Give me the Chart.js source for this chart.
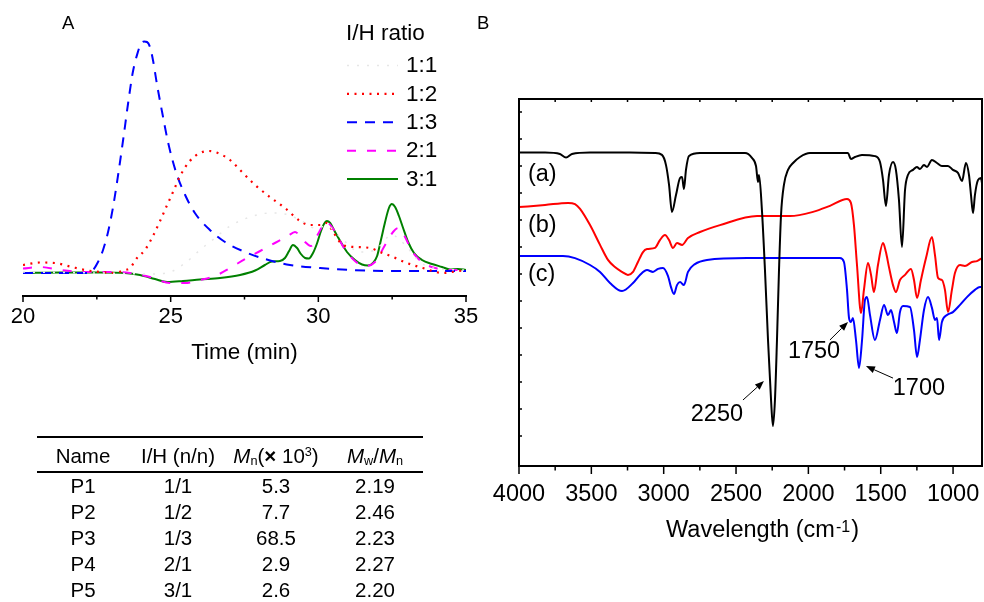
<!DOCTYPE html>
<html><head><meta charset="utf-8">
<script src="https://cdn.jsdelivr.net/npm/chart.js@4.4.1/dist/chart.umd.min.js"></script>
<style>
html,body{margin:0;padding:0;background:#fff;}
body{width:984px;height:602px;position:relative;overflow:hidden;font-family:"Liberation Sans",Arial,Helvetica,sans-serif;color:#000;}
canvas{position:absolute;}
.t{position:absolute;white-space:nowrap;}
sub{font-size:0.62em;vertical-align:baseline;position:relative;top:0.22em;line-height:0;}
sup{font-size:0.62em;vertical-align:baseline;position:relative;top:-0.55em;line-height:0;}
.rule{position:absolute;background:#000;height:1.6px;}
</style></head><body>
<canvas id="gpc" width="490" height="380" style="left:0;top:0;width:490px;height:380px"></canvas>
<canvas id="ir" width="504" height="602" style="left:480px;top:0;width:504px;height:602px"></canvas>
<script>
// ---------------- GPC traces (A) ----------------
const timeTicks = [20, 25, 30, 35];
const ratioLabels = ['1:1', '1:2', '1:3', '2:1', '3:1'];

const t11 = [20,22.61,24.3,24.98,25.49,25.99,26.5,27.01,27.69,28.36,28.87,29.38,29.89,30.29,30.74,31.41,31.92,32.49,32.94,33.44,34.12,35];
const s11 = [12,11.5,11,12,16.5,23,29,35,39.5,41.5,41,38,34,35,29.5,22,23,30.5,25.5,17,13.5,13];

const t12 = [20,20.58,21.08,21.59,22.1,22.61,23.12,23.39,23.62,23.86,24.13,24.4,24.64,24.88,25.08,25.32,25.65,25.99,26.3,26.67,27.01,27.35,27.86,28.36,28.87,29.38,29.72,30.06,30.29,30.5,30.84,31.24,31.75,32.09,32.53,33,33.54,34.22,34.53,35];
const s12 = [15.5,16.75,16.5,14.75,13,12,11.5,12.75,14,19,23,30,37.5,45.5,52,60,67.5,71.5,72.5,71,68,63,55.5,49.5,44,37.5,35.5,35.5,36.5,32,25.5,24.5,24,22,19.5,16.5,14,11.5,12,13];

const t13 = [20,21.25,22.2,22.37,22.54,22.71,22.88,23.05,23.22,23.39,23.56,23.72,23.89,23.99,24.1,24.2,24.3,24.4,24.54,24.71,24.91,25.18,25.49,25.82,26.33,26.84,27.52,28.19,29.04,30.06,31.07,32.77,35];
const s13 = [11.5,11.5,11.5,13,17,23,32,44.5,60.5,78,96.5,112,122,126,127.25,127,124.5,118,105.5,92,77,62,50.5,41.5,33,27,22,18.5,15.5,14,13,12.5,12.5];

const t21 = [20,20.58,21.25,22.1,22.95,23.62,24.3,24.98,25.49,25.99,26.5,27.01,27.52,28.03,28.53,28.97,29.21,29.48,29.75,29.99,30.26,30.53,30.87,31.24,31.58,31.92,32.26,32.53,32.7,32.9,33.17,33.51,33.95,34.46,35];
const s21 = [13.75,14.5,13,12,12,11.5,9.5,6.5,6.5,8,10,14,18.5,22.5,26.5,30,32,28,25,31,37,33,24,17.5,15,17,25.5,32,34,30.5,22.5,17,14,13,13];

const t31 = [20,21.25,22.61,23.45,23.96,24.47,24.88,25.42,25.99,26.67,27.35,27.86,28.19,28.43,28.7,28.87,29.01,29.14,29.28,29.41,29.55,29.68,29.82,29.96,30.09,30.19,30.29,30.4,30.53,30.74,30.97,31.24,31.48,31.68,31.85,31.99,32.12,32.26,32.39,32.49,32.6,32.73,32.87,33.04,33.24,33.51,33.85,34.19,34.46,34.73,35];
const s31 = [11.5,11.75,11.75,11.5,10.5,8.5,7,7.5,8.25,9,10.5,12.75,15.5,17.25,17.5,19,22.5,25.5,24,21,19,18.75,21.5,26.5,32.5,36,37.5,36.5,33,27.5,22,18,15.75,15.25,16.5,20,28,37,44,46,44.5,40,34,27,21.5,18,16,14.5,13.25,13.5,13];

// ---------------- FTIR spectra (B) ----------------
const wnTicks = [1000, 1500, 2000, 2500, 3000, 3500, 4000];
const curveNames = ['(a)', '(b)', '(c)'];

const aWn = [4000,3820,3717,3675,3634,3509,3233,3060,3012,2984,2963,2943,2915,2887,2873,2860,2846,2825,2749,2438,2390,2362,2348,2341,2321,2300,2279,2258,2245,2231,2217,2203,2189,2169,2141,2106,2058,1989,1726,1706,1678,1630,1540,1505,1484,1464,1443,1415,1395,1374,1353,1332,1312,1277,1250,1229,1201,1180,1146,1111,1077,1035,1001,966,938,911,890,876,862,849,828,807,800];
const aT = [104.5,104.5,104,102.8,104,104.5,104.5,104.3,103.7,100.3,93.7,84.7,90.3,96,96.3,92.3,98.7,103.3,104.3,104.3,102.7,100,94.7,97,85.3,65.3,42,22,13.3,22,42,65.3,83.7,93.7,98.7,101,103,104.3,104.3,102.3,103,103.7,103.3,101.3,95.3,86.7,97,101.3,98.7,88.7,73,92,97,98.7,99.7,99,100.3,99.7,102,101,100,100,98.7,97.7,95,101,97,90.3,84.3,90.3,95.3,96,94.3];

const bWn = [4000,3820,3661,3613,3578,3509,3440,3385,3337,3288,3247,3212,3178,3143,3115,3060,3026,2991,2963,2936,2908,2873,2832,2749,2611,2355,2127,1968,1851,1733,1706,1685,1664,1636,1616,1588,1567,1547,1519,1484,1464,1443,1415,1395,1367,1332,1291,1270,1249,1222,1187,1146,1125,1104,1077,1056,1035,1008,987,952,918,869,835,800];
const bT = [86.3,87,87.7,87.3,85.7,80.3,73.7,68.7,66.3,64.7,63.7,64.7,68,71.3,72.3,72.7,75.3,77,75.3,72.7,74.3,73.7,76,78,80.3,83.3,83.3,84.7,86.7,89,87.7,80.3,67,51,58.7,67.7,63.7,58,67,74.3,71.3,66.3,60.3,58,62,63.7,65.7,62,56,62,69.3,76.3,70.3,62.7,62,58.7,51.3,58.7,64.3,67,66.7,68,68.3,69.3];

const cWn = [4000,3696,3613,3509,3440,3371,3288,3212,3164,3115,3074,3039,3005,2970,2950,2929,2908,2887,2860,2832,2784,2701,2424,1782,1754,1733,1719,1706,1692,1671,1650,1629,1609,1595,1574,1540,1505,1477,1450,1429,1408,1388,1367,1346,1298,1270,1249,1229,1201,1173,1146,1125,1111,1097,1077,1042,1001,952,904,849,814,800];
const cT = [70,70,69.3,67,64.7,61,58.3,61,63.7,65.3,64.7,65.7,66,63.3,59.7,57.3,60.3,61.3,60.3,64.7,67.3,68.7,69.3,69.3,68,58.7,49.3,48,49.3,42,32.7,42,55.3,56.3,50.3,42,48.7,53.7,50.3,52,48,44.3,51.3,53.3,53,45.3,36.3,42,52,56.3,52.7,48.7,49.3,42,48,50.3,51.3,53.7,56.3,58.7,59.7,59.7];

// ---------------- Table ----------------
const sampleNames = ['P1', 'P2', 'P3', 'P4', 'P5'];
const ihRatios = ['1/1', '1/2', '1/3', '2/1', '3/1'];
const mnValues = [5.3, 7.7, 68.5, 2.9, 2.6];
const dispersity = [2.19, 2.46, 2.23, 2.27, 2.20];

// ================= rendering =================
const FONT = '"Liberation Sans", Arial, Helvetica, sans-serif';
const pts = (xs, ys) => xs.map((x, i) => ({x, y: ys[i]}));

function placeText(html, left, baseline, size, center) {
  const d = document.createElement('div');
  d.className = 't';
  d.innerHTML = html;
  d.style.fontSize = size + 'px';
  d.style.lineHeight = size + 'px';
  d.style.top = (baseline - 0.8465 * size) + 'px';
  d.style.left = left + 'px';
  if (center) d.style.transform = 'translateX(-50%)';
  document.body.appendChild(d);
}

const gpcStyles = [
  {color: '#e6e6e6', dash: [2, 8], width: 1.5},
  {color: '#ff0000', dash: [2, 5.5], width: 2.2},
  {color: '#0000ff', dash: [10, 8], width: 2},
  {color: '#ff00ff', dash: [9, 11], width: 2},
  {color: '#008000', dash: [], width: 2}
];
const gpcSeries = [[t11, s11], [t12, s12], [t13, s13], [t21, s21], [t31, s31]];

const gpcAxisPlugin = {
  id: 'gpcAxis',
  afterDraw(chart) {
    const {ctx, chartArea: {left, right, bottom}, scales: {x}} = chart;
    ctx.save();
    ctx.strokeStyle = '#000';
    ctx.lineWidth = 2;
    ctx.beginPath(); ctx.moveTo(left - 1, bottom); ctx.lineTo(right + 1, bottom); ctx.stroke();
    ctx.lineWidth = 1.5;
    ctx.beginPath();
    timeTicks.forEach((v, i) => {
      const px = x.getPixelForValue(v);
      ctx.moveTo(px, bottom); ctx.lineTo(px, bottom + 6);
      if (i < timeTicks.length - 1) {
        const pm = x.getPixelForValue((v + timeTicks[i + 1]) / 2);
        ctx.moveTo(pm, bottom); ctx.lineTo(pm, bottom + 3.5);
      }
    });
    ctx.stroke();
    ctx.restore();
  }
};

const gpcChart = new Chart(document.getElementById('gpc'), {
  type: 'line',
  data: {
    datasets: gpcSeries.map((s, i) => ({
      label: ratioLabels[i],
      data: pts(s[0], s[1]),
      borderColor: gpcStyles[i].color,
      borderDash: gpcStyles[i].dash,
      borderWidth: gpcStyles[i].width,
      pointRadius: 0,
      fill: false
    }))
  },
  options: {
    responsive: false, animation: false, devicePixelRatio: 1,
    layout: {padding: {left: 23, right: 24, top: 30, bottom: 0}},
    plugins: {legend: {display: false}, tooltip: {enabled: false}},
    elements: {line: {cubicInterpolationMode: 'monotone', borderCapStyle: 'butt'}},
    scales: {
      x: {
        type: 'linear', min: 20, max: 35,
        afterBuildTicks: s => { s.ticks = timeTicks.map(v => ({value: v})); },
        afterFit: s => { s.height = 84; },
        grid: {display: false, drawTicks: false}, border: {display: false},
        ticks: {padding: 8, color: '#000', font: {family: FONT, size: 22}, maxRotation: 0, autoSkip: false,
                callback: v => String(v)},
        title: {display: true, text: 'Time (min)', color: '#000', font: {family: FONT, size: 22.5},
                padding: {top: 0, bottom: 13.5}}
      },
      y: {display: false, min: 0, max: 133}
    }
  },
  plugins: [gpcAxisPlugin]
});

// ---------------- IR chart ----------------
const irColors = ['#000000', '#ff0000', '#0000ff'];
const irSeries = [[aWn, aT], [bWn, bT], [cWn, cT]];
const curveLabelAnchors = [[3938, 97], [3938, 80.3], [3938, 63.7]];
const peakNotes = [
  {text: '2250', at: [2632, 17.3], from: [2452, 22], to: [2307, 28.3]},
  {text: '1750', at: [1961, 38], from: [1851, 42], to: [1726, 48]},
  {text: '1700', at: [1236, 25.7], from: [1415, 29.3], to: [1602, 33.3]}
];

function drawArrow(ctx, x1, y1, x2, y2) {
  const ang = Math.atan2(y2 - y1, x2 - x1);
  const L = 9, W = 3.5;
  const bx = x2 - L * Math.cos(ang), by = y2 - L * Math.sin(ang);
  ctx.beginPath(); ctx.moveTo(x1, y1); ctx.lineTo(bx, by); ctx.stroke();
  ctx.beginPath();
  ctx.moveTo(x2, y2);
  ctx.lineTo(bx + W * Math.sin(ang), by - W * Math.cos(ang));
  ctx.lineTo(bx - W * Math.sin(ang), by + W * Math.cos(ang));
  ctx.closePath(); ctx.fill();
}

const irPlugin = {
  id: 'irFrame',
  afterDraw(chart) {
    const {ctx, chartArea: {left, right, top, bottom}, scales: {x, y}} = chart;
    ctx.save();
    ctx.strokeStyle = '#000'; ctx.fillStyle = '#000';
    ctx.lineWidth = 2;
    ctx.strokeRect(left, top, right - left, bottom - top);
    ctx.lineWidth = 1.5;
    ctx.beginPath();
    for (let v = 1000; v <= 4000; v += 250) {
      const px = x.getPixelForValue(v);
      const major = wnTicks.includes(v);
      ctx.moveTo(px, bottom); ctx.lineTo(px, bottom + (major ? 8 : 4.5));
      ctx.moveTo(px, top); ctx.lineTo(px, top + 3);
    }
    for (let v = 10; v < 122; v += 9) {
      const py = y.getPixelForValue(v);
      ctx.moveTo(left, py); ctx.lineTo(left + 3, py);
    }
    ctx.stroke();
    ctx.font = '23.5px ' + FONT;
    ctx.textBaseline = 'middle';
    ctx.textAlign = 'left';
    curveNames.forEach((n, i) => {
      ctx.fillText(n, x.getPixelForValue(curveLabelAnchors[i][0]), y.getPixelForValue(curveLabelAnchors[i][1]));
    });
    ctx.textAlign = 'center';
    ctx.lineWidth = 1;
    peakNotes.forEach(p => {
      ctx.fillText(p.text, x.getPixelForValue(p.at[0]), y.getPixelForValue(p.at[1]));
      drawArrow(ctx, x.getPixelForValue(p.from[0]), y.getPixelForValue(p.from[1]),
                x.getPixelForValue(p.to[0]), y.getPixelForValue(p.to[1]));
    });
    const main1 = 'Wavelength (cm', sup = '-1', main2 = ')';
    ctx.textBaseline = 'alphabetic'; ctx.textAlign = 'left';
    ctx.font = '23.5px ' + FONT;
    const w1 = ctx.measureText(main1).width, w3 = ctx.measureText(main2).width;
    ctx.font = '16px ' + FONT;
    const w2 = ctx.measureText(sup).width;
    const cx = (left + right) / 2 + 11;
    let sx = cx - (w1 + w2 + w3) / 2;
    ctx.font = '23.5px ' + FONT;
    ctx.fillText(main1, sx, 536.5);
    ctx.font = '16px ' + FONT;
    ctx.fillText(sup, sx + w1 + 1, 532);
    ctx.font = '23.5px ' + FONT;
    ctx.fillText(main2, sx + w1 + w2 + 2, 536.5);
    ctx.restore();
  }
};

new Chart(document.getElementById('ir'), {
  type: 'line',
  data: {
    datasets: irSeries.map((s, i) => ({
      label: curveNames[i],
      data: pts(s[0], s[1]),
      borderColor: irColors[i],
      borderWidth: 2,
      pointRadius: 0,
      fill: false
    }))
  },
  options: {
    responsive: false, animation: false, devicePixelRatio: 1,
    layout: {padding: {left: 39, right: 2, top: 99, bottom: 0}},
    plugins: {legend: {display: false}, tooltip: {enabled: false}},
    elements: {line: {cubicInterpolationMode: 'monotone'}},
    scales: {
      x: {
        type: 'linear', min: 800, max: 4000, reverse: true,
        afterBuildTicks: s => { s.ticks = wnTicks.map(v => ({value: v})); },
        afterFit: s => { s.height = 136; },
        grid: {display: false, drawTicks: false}, border: {display: false},
        ticks: {padding: 14, color: '#000', font: {family: FONT, size: 23.5}, maxRotation: 0, autoSkip: false,
                callback: v => String(v)}
      },
      y: {display: false, min: 0, max: 122.33}
    }
  },
  plugins: [irPlugin]
});

// ---------------- HTML text: panel letters, legend, table ----------------
placeText('A', 62, 30, 18.5);
placeText('B', 477, 30, 18.5);

placeText('I/H ratio', 346, 41.5, 22.5);
const svgNS = 'http://www.w3.org/2000/svg';
const svg = document.createElementNS(svgNS, 'svg');
svg.setAttribute('width', '984'); svg.setAttribute('height', '602');
svg.style.position = 'absolute'; svg.style.left = '0'; svg.style.top = '0';
gpcChart.data.datasets.forEach((ds, i) => {
  const base = 73.3 + i * 28.35;
  placeText(ds.label, 406, base, 22.5);
  const ln = document.createElementNS(svgNS, 'line');
  ln.setAttribute('x1', 347); ln.setAttribute('x2', 398);
  ln.setAttribute('y1', base - 7.7); ln.setAttribute('y2', base - 7.7);
  ln.setAttribute('stroke', ds.borderColor);
  ln.setAttribute('stroke-width', ds.borderWidth);
  if (ds.borderDash.length) ln.setAttribute('stroke-dasharray', ds.borderDash.join(' '));
  svg.appendChild(ln);
});
document.body.appendChild(svg);

const colCenters = [83, 178, 276, 375];
const tableHeader = ['Name', 'I/H (n/n)', '<i>M</i><sub>n</sub>(<b>\u00d7</b> 10<sup>3</sup>)', '<i>M</i><sub>w</sub>/<i>M</i><sub>n</sub>'];
[437, 472].forEach(yy => {
  const r = document.createElement('div');
  r.className = 'rule';
  r.style.left = '37px'; r.style.width = '386px'; r.style.top = (yy - 0.8) + 'px';
  document.body.appendChild(r);
});
tableHeader.forEach((h, j) => placeText(h, colCenters[j], 463, 20.5, true));
sampleNames.forEach((n, i) => {
  const base = 493 + i * 26;
  const row = [n, ihRatios[i], mnValues[i].toFixed(1), dispersity[i].toFixed(2)];
  row.forEach((c, j) => placeText(c, colCenters[j], base, 20.5, true));
});
</script>
</body></html>
